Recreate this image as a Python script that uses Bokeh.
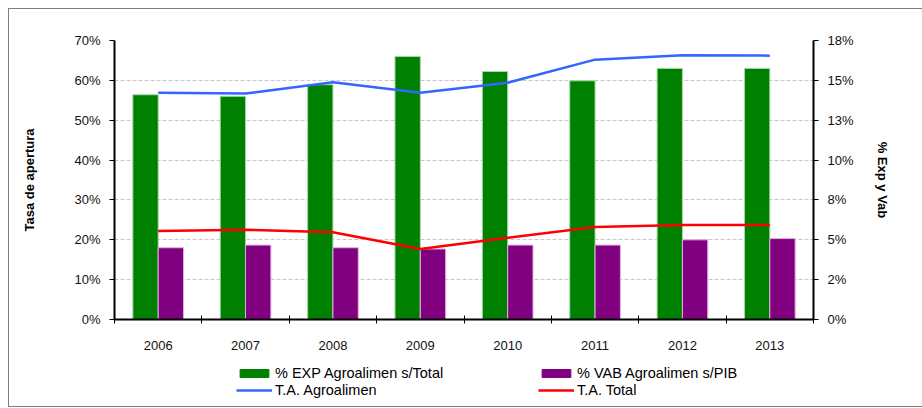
from bokeh.plotting import figure
from bokeh.layouts import column
from bokeh.models import (Range1d, LinearAxis, FixedTicker, NumeralTickFormatter,
                          CustomJSTickFormatter, Legend, LegendItem)
from bokeh.embed import file_html
from bokeh.resources import INLINE

years = ["2006", "2007", "2008", "2009", "2010", "2011", "2012", "2013"]
exp_share = [14.5, 14.4, 15.15, 16.97, 16.0, 15.4, 16.2, 16.2]      # % EXP Agroalimen s/Total (right axis)
vab_share = [4.63, 4.8, 4.63, 4.55, 4.8, 4.8, 5.14, 5.22]           # % VAB Agroalimen s/PIB (right axis)
ta_agro = [56.9, 56.7, 59.5, 56.9, 59.4, 65.2, 66.3, 66.2]          # T.A. Agroalimen (left axis)
ta_total = [22.2, 22.5, 21.9, 17.7, 20.5, 23.2, 23.7, 23.7]         # T.A. Total (left axis)
left_ticks = [0, 10, 20, 30, 40, 50, 60, 70]
right_labels = ["0%", "2%", "5%", "8%", "10%", "13%", "15%", "18%"]
right_max = 18
series_names = ["% EXP Agroalimen s/Total", "% VAB Agroalimen s/PIB", "T.A. Agroalimen", "T.A. Total"]

FONT = "Liberation Sans"
GREEN, PURPLE, BLUE, RED = "#008000", "#800080", "#3366ff", "#ff0000"
n = len(years)
centers = [i + 0.5 for i in range(n)]
W = 913
H_MAIN, H_LEG = 352, 45

p = figure(width=W, height=H_MAIN, output_backend="svg", toolbar_location=None,
           x_range=Range1d(0, n), y_range=Range1d(0, 0.70),
           min_border_left=105, min_border_right=109, min_border_top=31, min_border_bottom=42)
p.outline_line_color = None
p.background_fill_color = "white"
p.border_fill_color = "white"
p.extra_y_ranges = {"right": Range1d(0, right_max / 100)}

# bars (right axis)
bw = 0.29
p.vbar(x=[c - bw / 2 for c in centers], top=[v / 100 for v in exp_share], width=bw,
       bottom=0, y_range_name="right", fill_color=GREEN, line_color="#a8d8a8", line_width=1)
p.vbar(x=[c + bw / 2 for c in centers], top=[v / 100 for v in vab_share], width=bw,
       bottom=0, y_range_name="right", fill_color=PURPLE, line_color="#e0b0e0", line_width=1)

# lines (left axis)
p.line(centers, [v / 100 for v in ta_agro], line_color=BLUE, line_width=2.5)
p.line(centers, [v / 100 for v in ta_total], line_color=RED, line_width=2.5)

# x axis
xa = p.xaxis[0]
xa.ticker = FixedTicker(ticks=centers, minor_ticks=list(range(n + 1)))
xa.formatter = CustomJSTickFormatter(args=dict(labels=years),
                                     code="return labels[Math.round(tick - 0.5)];")
xa.major_tick_line_color = None
xa.major_tick_in = 0
xa.major_tick_out = 4
xa.minor_tick_in = 4
xa.minor_tick_out = 4
xa.minor_tick_line_color = "black"
xa.minor_tick_line_width = 1
xa.axis_line_color = "black"
xa.axis_line_width = 2
xa.major_label_standoff = 17
xa.major_label_text_font = FONT
xa.major_label_text_font_size = "13px"
xa.major_label_text_color = "#111111"

# left axis
ya = p.yaxis[0]
ya.ticker = FixedTicker(ticks=[round(v / 100, 2) for v in left_ticks])
ya.formatter = NumeralTickFormatter(format="0%")
ya.axis_label = "Tasa de apertura"
ya.axis_label_text_font = FONT
ya.axis_label_text_font_style = "bold"
ya.axis_label_text_font_size = "13px"
ya.axis_label_text_color = "black"
ya.axis_label_standoff = 34
ya.major_label_text_font = FONT
ya.major_label_text_font_size = "13px"
ya.major_label_text_color = "#111111"
ya.major_label_standoff = 9
ya.major_tick_in = 0
ya.major_tick_out = 5
ya.major_tick_line_color = "black"
ya.minor_tick_line_color = None
ya.axis_line_color = "black"
ya.axis_line_width = 2

# right axis
rstep = right_max / 100 / 7
ra = LinearAxis(y_range_name="right",
                ticker=FixedTicker(ticks=[round(i * rstep, 10) for i in range(8)]),
                formatter=CustomJSTickFormatter(args=dict(labels=right_labels, step=rstep),
                                                code="return labels[Math.round(tick / step)];"))
ra.axis_label = "% Exp y Vab"
ra.axis_label_text_font = FONT
ra.axis_label_text_font_style = "bold"
ra.axis_label_text_font_size = "13px"
ra.axis_label_text_color = "black"
ra.axis_label_standoff = 18
ra.major_label_text_font = FONT
ra.major_label_text_font_size = "13px"
ra.major_label_text_color = "#111111"
ra.major_label_standoff = 9
ra.major_tick_in = 0
ra.major_tick_out = 5
ra.major_tick_line_color = "black"
ra.minor_tick_line_color = None
ra.axis_line_color = "black"
ra.axis_line_width = 2
p.add_layout(ra, "right")

# grid
p.xgrid.grid_line_color = None
p.ygrid.ticker = ya.ticker
p.ygrid.grid_line_color = "#c8c8c8"
p.ygrid.grid_line_dash = "4 2"
p.ygrid.grid_line_width = 1

# legend strip (separate figure so it is not clipped by the plot frame);
# its proxy glyphs sit outside the visible range and only feed the legend swatches
lg = figure(width=W, height=H_LEG, output_backend="svg", toolbar_location=None,
            x_range=Range1d(0, 1), y_range=Range1d(0, 1),
            x_axis_location=None, y_axis_location=None,
            min_border_left=0, min_border_right=0, min_border_top=0, min_border_bottom=0)
lg.outline_line_color = None
lg.xgrid.grid_line_color = None
lg.ygrid.grid_line_color = None
r1 = lg.vbar(x=[-2], top=[-2], bottom=[-3], width=0.1, fill_color=GREEN, line_color=GREEN)
r2 = lg.vbar(x=[-2], top=[-2], bottom=[-3], width=0.1, fill_color=PURPLE, line_color=PURPLE)
r3 = lg.line(x=[-2, -1.9], y=[-2, -2], line_color=BLUE, line_width=2.5)
r4 = lg.line(x=[-2, -1.9], y=[-2, -2], line_color=RED, line_width=2.5)
legend = Legend(items=[LegendItem(label=series_names[i], renderers=[r])
                       for i, r in enumerate([r1, r2, r3, r4])],
                location=(122, 8), orientation="horizontal", ncols=2,
                padding=0, margin=0, spacing=1, label_standoff=3,
                glyph_width=36, glyph_height=10, label_height=16, label_width=262,
                label_text_font=FONT, label_text_font_size="14.5px", label_text_color="black",
                border_line_color=None, background_fill_alpha=0)
lg.add_layout(legend, "center")

layout = column(p, lg, spacing=0,
                styles={"margin-left": "8px", "margin-top": "8px",
                        "border-left": "1px solid #7f7f7f", "border-top": "1px solid #7f7f7f",
                        "border-bottom": "1px solid #7f7f7f"})

open("out.html", "w").write(file_html(layout, INLINE))
